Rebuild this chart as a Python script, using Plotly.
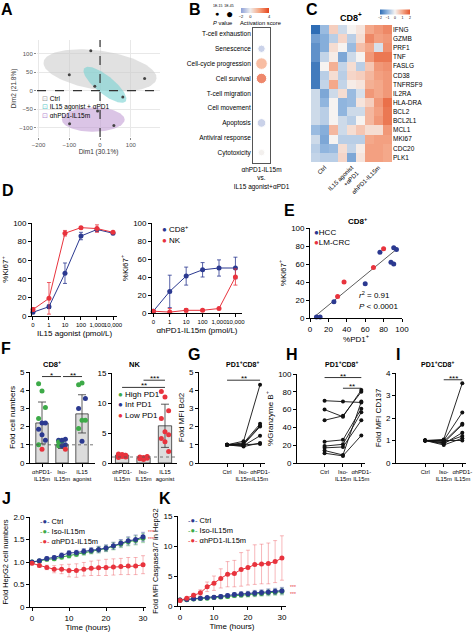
import numpy as np
import plotly.graph_objects as go

W, H = 474, 633
FONT = "Liberation Sans, Arial, sans-serif"
BLUE = "#2b3990"
RED = "#e8333d"
GREEN = "#3daa48"

# ---------------- data ----------------
# A: PCA
a_ctrl_x = [-30, -100, 145]
a_ctrl_y = [108, 43, 33]
a_combo_x = [-17, 74]
a_combo_y = [12, -17]
a_ah_x = [-8, -99, 45]
a_ah_y = [-55, -89, -94]
ell_cx = [0, 16, -22]
ell_cy = [55, 16, -78]
ell_a = [185, 81, 102]
ell_b = [53, 26, 33]
ell_ang = [-6.8, -32.4, 0]
ell_fill = ["rgba(200,200,200,0.55)", "rgba(120,210,210,0.6)", "rgba(190,150,210,0.55)"]

# B: pathway bubbles
b_cats = ["T-cell exhaustion", "Senescence", "Cell-cycle progression", "Cell survival",
          "T-cell migration", "Cell movement", "Apoptosis", "Antiviral response", "Cytotoxicity"]
b_act = [None, -1.2, 2.0, 3.6, None, None, -1.2, None, 0.1]
b_logp = [0, 8, 22, 18, 0, 0, 12, 0, 5]

# C: heatmap
c_genes = ["IFNG", "GZMB", "PRF1", "TNF", "FASLG", "CD38", "TNFRSF9", "IL2RA", "HLA-DRA",
           "BCL2", "BCL2L1", "MCL1", "MKI67", "CDC20", "PLK1"]
c_groups = ["Ctrl", "IL15 agonist<br>+αPD1", "αhPD1-IL15m"]
c_z = [
    [-2.0, -0.9, 0.5, -0.4, 0.0, 0.2, 1.0, 1.2, 1.4],
    [-1.3, -1.1, -0.6, 0.4, -0.6, 0.3, 1.4, 1.1, 1.2],
    [-1.5, -1.1, 0.3, 0.0, -0.9, 0.7, 1.0, -0.3, 1.3],
    [-1.5, -0.5, 0.1, -1.2, -0.4, 0.0, 1.2, 1.6, 1.6],
    [-1.8, 0.0, 0.9, -0.5, 0.3, -0.6, 0.6, 1.2, 1.3],
    [-1.8, -0.6, 0.3, -0.6, 0.4, 0.5, 0.8, 1.1, 1.2],
    [-1.8, -0.5, 1.0, -0.5, 0.1, 0.2, 0.9, 1.0, 1.2],
    [-0.4, -1.2, -0.4, 0.3, -0.9, -0.3, 1.2, 1.0, 1.2],
    [-0.4, -1.0, 0.0, -1.0, -0.9, 0.2, 0.5, 1.2, 1.7],
    [-0.4, -0.6, 0.0, -1.0, -0.4, -0.4, 0.8, 1.1, 1.6],
    [-0.4, -0.6, 0.0, -0.4, -0.6, 0.0, 0.8, 1.2, 1.6],
    [-0.9, -1.1, 0.8, -0.4, 0.3, 0.6, 0.3, 0.3, 1.2],
    [-0.4, -1.2, 0.0, -0.6, -0.6, -0.6, 1.0, 1.1, 1.1],
    [-0.6, -1.0, -0.9, 0.3, -0.5, 0.1, 1.1, 1.1, 1.0],
    [-0.5, -0.6, -0.6, 0.4, -1.2, 0.2, 1.1, 1.1, 1.0],
]

# D: dose response
d_doses = ["0", "1", "10", "100", "1,000", "10,000"]
d_il15_cd8 = [4, 10, 46, 86, 93, 89]
d_il15_cd8_err = [1, 2, 11, 4, 2, 1]
d_il15_nk = [7, 19, 89, 95, 94, 90]
d_il15_nk_err = [2, 17, 3, 1, 4, 1]
d_ah_cd8 = [2, 24, 41, 48, 50, 50]
d_ah_cd8_err = [1, 18, 10, 8, 9, 12]
d_ah_nk = [2, 1, 3, 3, 5, 40]
d_ah_nk_err = [1, 4, 2, 1, 1, 9]

# E: correlation
e_hcc_x = [7, 11, 26, 60, 76, 88, 91, 91, 94]
e_hcc_y = [1, 1, 18, 38, 73, 62, 78, 60, 76]
e_crc_x = [30, 37, 69, 80]
e_crc_y = [24, 40, 56, 77]

# F: fold cell numbers
f_groups = ["αhPD1-<br>IL15m", "Iso-<br>IL15m", "IL15<br>agonist"]
f_cd8_mean = [2.2, 1.0, 2.7]
f_cd8_sd = [1.15, 0.2, 1.05]
f_cd8_vals = [
    [4.35, 3.95, 3.05, 2.45, 2.2, 2.2, 1.85, 1.55, 1.25, 1.0, 0.75],
    [1.25, 1.2, 1.3, 1.15, 1.25, 1.0, 0.95, 0.95, 0.75],
    [4.3, 4.4, 3.55, 3.0, 2.35, 2.35, 1.9, 1.2],
]
f_cd8_pd1 = [
    ["H", "H", "H", "H", "I", "I", "I", "I", "I", "H", "L"],
    ["I", "H", "I", "H", "I", "I", "H", "I", "L"],
    ["H", "H", "I", "I", "H", "H", "H", "I"],
]
f_nk_mean = [1.3, 0.85, 6.2]
f_nk_sd = [0.3, 0.25, 3.6]
f_nk_vals = [
    [1.5, 1.4, 1.3, 1.2, 1.1, 1.0, 1.35, 1.25, 1.1, 0.9],
    [1.0, 0.9, 0.8, 0.7, 0.6, 1.1, 0.9, 0.8, 1.0],
    [11.9, 11.0, 8.7, 7.4, 5.2, 4.7, 4.1, 3.55, 1.9],
]
pd1_color = {"H": GREEN, "I": BLUE, "L": RED}

# G/H/I paired
pair_cats = ["Ctrl", "Iso-<br>IL15m", "αhPD1-<br>IL15m"]
g_ctrl = [1.0, 1.0, 1.0, 1.0, 1.0, 1.0, 1.0]
g_iso = [1.2, 1.1, 1.05, 1.0, 0.95, 0.9, 1.0]
g_ah = [4.3, 2.15, 2.05, 2.0, 1.5, 1.1, 1.05]
h_ctrl = [70, 60, 48, 24, 19, 17, 14, 11]
h_iso = [69, 52, 53, 26, 21, 18, 9, 8]
h_ah = [68, 82, 80, 61, 57, 48, 69, 31]
i_ctrl = [1.0, 1.0, 1.0, 1.0, 1.0, 1.0, 1.0, 1.0]
i_iso = [1.05, 1.0, 0.95, 0.9, 0.85, 0.9, 0.8, 1.0]
i_ah = [3.55, 2.25, 1.75, 1.7, 1.35, 1.2, 1.1, 1.0]

# J/K time courses
t_hours = [0, 2, 4, 6, 8, 10, 12, 14, 16, 18, 20, 22, 24, 26, 28, 30]
j_ctrl = [1.0, 1.03, 1.08, 1.1, 1.15, 1.2, 1.21, 1.24, 1.26, 1.28, 1.31, 1.36, 1.42, 1.47, 1.5, 1.56]
j_ctrl_err = [0.02, 0.03, 0.04, 0.04, 0.05, 0.05, 0.05, 0.06, 0.06, 0.07, 0.07, 0.08, 0.08, 0.09, 0.1, 0.1]
j_iso = [1.0, 1.02, 1.06, 1.07, 1.11, 1.14, 1.17, 1.21, 1.24, 1.27, 1.3, 1.35, 1.4, 1.45, 1.48, 1.53]
j_ah = [0.97, 0.92, 0.88, 0.84, 0.84, 0.81, 0.81, 0.84, 0.86, 0.87, 0.88, 0.89, 0.9, 0.91, 0.91, 0.94]
j_ah_err = [0.03, 0.04, 0.05, 0.08, 0.1, 0.14, 0.15, 0.15, 0.16, 0.17, 0.18, 0.18, 0.18, 0.19, 0.19, 0.2]
k_ctrl = [1.0, 1.1, 1.2, 1.3, 1.4, 1.45, 1.6, 1.75, 1.9, 2.0, 2.05, 2.15, 2.25, 2.35, 2.45, 2.55]
k_ctrl_err = [0.1, 0.1, 0.15, 0.2, 0.2, 0.25, 0.3, 0.3, 0.35, 0.4, 0.4, 0.45, 0.45, 0.5, 0.5, 0.55]
k_iso = [1.0, 1.05, 1.15, 1.25, 1.3, 1.4, 1.5, 1.6, 1.75, 1.85, 1.9, 2.0, 2.1, 2.2, 2.3, 2.4]
k_ah = [0.9, 1.3, 1.8, 2.2, 3.2, 3.8, 4.6, 5.3, 5.4, 6.1, 6.4, 6.9, 7.0, 7.1, 7.4, 8.0]
k_ah_err = [0.1, 0.2, 0.3, 0.5, 0.8, 1.2, 1.6, 2.1, 2.2, 2.8, 2.9, 3.3, 3.3, 3.4, 3.5, 3.7]

# ---------------- helpers ----------------
layout = dict(width=W, height=H, margin=dict(l=0, r=0, t=0, b=0, autoexpand=False),
              paper_bgcolor="white", plot_bgcolor="white",
              font=dict(family=FONT, size=7, color="black"), showlegend=False)
traces, shapes, anns = [], [], []

base_axis = dict(showline=True, linecolor="black", linewidth=0.8, ticks="outside", ticklen=3,
                 tickwidth=0.8, tickcolor="black", showgrid=False, zeroline=False, automargin=False,
                 tickangle=0, tickfont=dict(size=8), fixedrange=True)


def add_axes(n, box, xkw, ykw):
    x0, x1, y0, y1 = box
    sx = "" if n == 1 else str(n)
    layout["xaxis" + sx] = {**base_axis, "domain": [x0 / W, x1 / W], "anchor": "y" + sx, **xkw}
    layout["yaxis" + sx] = {**base_axis, "domain": [1 - y1 / H, 1 - y0 / H], "anchor": "x" + sx, **ykw}
    return "x" + sx, "y" + sx


def ann(x, y, text, size=8, xa="center", ya="middle", color="black", align="left", **kw):
    anns.append(dict(x=x / W, y=1 - y / H, xref="paper", yref="paper", text=text, showarrow=False,
                     xanchor=xa, yanchor=ya, align=align, font=dict(size=size, color=color, family=FONT), **kw))


def ytitle(text, size=8, standoff=3):
    return dict(text=text, font=dict(size=size), standoff=standoff)


def sig(xr, yr, xa, xb, y, text, size=8):
    shapes.append(dict(type="line", xref=xr, yref=yr, x0=xa, x1=xb, y0=y, y1=y,
                       line=dict(color="black", width=0.8)))
    anns.append(dict(x=(xa + xb) / 2, y=y, xref=xr, yref=yr, text=text, showarrow=False,
                     yanchor="bottom", yshift=-5, font=dict(size=size, color="black")))


def hline(xr, yr, y, dash="dot"):
    shapes.append(dict(type="line", xref=xr + " domain", yref=yr, x0=0, x1=1, y0=y, y1=y,
                       line=dict(color="#555", width=0.8, dash=dash)))


# ---------------- A ----------------
xa, ya = add_axes(1, (37, 160, 40, 137),
                  dict(range=[-205, 195], tickvals=[-200, -100, 0, 100], showline=False, showgrid=True,
                       gridcolor="#e8e8e8", ticklen=2, tickcolor="#888", tickfont=dict(size=6, color="#555"),
                       title=dict(text="Dim1 (30.1%)", font=dict(size=6.5, color="#333"), standoff=2)),
                  dict(range=[-125, 137], tickvals=[-100, -50, 0, 50, 100], showline=False, showgrid=True,
                       gridcolor="#e8e8e8", ticklen=2, tickcolor="#888", tickfont=dict(size=6, color="#555"),
                       title=dict(text="Dim2 (21.8%)", font=dict(size=6.5, color="#333"), standoff=2)))
tt = np.linspace(0, 2 * np.pi, 120)
for cx, cy, a, b, ang, fc in zip(ell_cx, ell_cy, ell_a, ell_b, ell_ang, ell_fill):
    th = np.deg2rad(ang)
    ex = cx + a * np.cos(tt) * np.cos(th) - b * np.sin(tt) * np.sin(th)
    ey = cy + a * np.cos(tt) * np.sin(th) + b * np.sin(tt) * np.cos(th)
    traces.append(go.Scatter(x=ex, y=ey, mode="lines", fill="toself", fillcolor=fc,
                             line=dict(width=0), xaxis=xa, yaxis=ya, hoverinfo="skip"))
for px_, py_ in [(a_ctrl_x, a_ctrl_y), (a_combo_x, a_combo_y), (a_ah_x, a_ah_y)]:
    traces.append(go.Scatter(x=px_, y=py_, mode="markers", marker=dict(size=3, color="#444"),
                             xaxis=xa, yaxis=ya, cliponaxis=False))
shapes.append(dict(type="line", xref="x", yref="y domain", x0=0, x1=0, y0=0, y1=1,
                   line=dict(color="#333", width=1.2, dash="dash")))
shapes.append(dict(type="line", xref="x domain", yref="y", x0=0, x1=1, y0=0, y1=0,
                   line=dict(color="#333", width=1.2, dash="dash")))
ann(40, 93, "<span style='color:#999'>⊡</span> Ctrl<br><span style='color:#5cc8c8'>⊡</span> IL15 agonist + αPD1"
            "<br><span style='color:#b48ad0'>⊡</span> αhPD1-IL15m", size=6.5, xa="left", ya="top")
ann(7, 9, "<b>A</b>", size=16)

# ---------------- B ----------------
xb, yb = add_axes(2, (253, 270, 28, 163),
                  dict(range=[-0.5, 0.5], tickvals=[0], ticks="", mirror=True, linecolor="#555",
                       ticktext=["αhPD1-IL15m<br>vs.<br>IL15 agonist+αPD1"], tickfont=dict(size=6.5)),
                  dict(range=[8.7, -0.4], tickvals=list(range(len(b_cats))), ticktext=b_cats, ticks="",
                       mirror=True, linecolor="#555", tickfont=dict(size=6.5)))
bi = [i for i, v in enumerate(b_act) if v is not None]
traces.append(go.Scatter(
    x=[0] * len(bi), y=bi, mode="markers", xaxis=xb, yaxis=yb,
    marker=dict(size=[5 + 0.3 * b_logp[i] for i in bi], color=[b_act[i] for i in bi],
                colorscale=[[0, "#8c9fd8"], [0.33, "#eeeeee"], [0.66, "#f6a47f"], [1, "#e5431b"]],
                cmin=-2, cmax=4, showscale=True,
                colorbar=dict(orientation="h", x=255 / W, y=1 - 13 / H, xanchor="center", yanchor="middle",
                              lenmode="pixels", len=28, thickness=5, outlinewidth=0, xpad=0, ypad=0,
                              tickvals=[-2, 0, 4], tickfont=dict(size=4), ticks=""))))
ann(217, 14, "●", size=7)
ann(229, 14, "●", size=12)
ann(223, 6, "1E-15  1E-45", size=3.5)
ann(222, 23, "<i>P</i> value", size=5.8)
ann(260, 23, "Activation score", size=5.8)
ann(195, 9, "<b>B</b>", size=16)

# ---------------- C ----------------
xc, yc = add_axes(3, (311, 392, 25, 162),
                  dict(range=[-0.5, 8.5], tickvals=[1, 4, 7], ticktext=c_groups, tickangle=-45,
                       showline=False, ticks="", tickfont=dict(size=6)),
                  dict(range=[14.5, -0.5], tickvals=list(range(len(c_genes))), ticktext=c_genes, side="right",
                       showline=False, ticks="", tickfont=dict(size=6.5)))
traces.append(go.Heatmap(
    z=c_z, x=list(range(9)), y=list(range(len(c_genes))), xaxis=xc, yaxis=yc, zmin=-2, zmax=2,
    colorscale=[[0, "#2f6db5"], [0.25, "#90b5de"], [0.5, "#f6f3f1"], [0.75, "#f4a88a"], [1, "#e5582f"]],
    colorbar=dict(orientation="h", x=395 / W, y=1 - 14 / H, xanchor="center", yanchor="middle",
                  lenmode="pixels", len=30, thickness=5, outlinewidth=0, xpad=0, ypad=0,
                  tickvals=[-2, -1, 0, 1, 2], tickfont=dict(size=3.5), ticks="")))
ann(351, 17, "<b>CD8<sup>+</sup></b>", size=9)
ann(312, 9, "<b>C</b>", size=16)

# ---------------- D ----------------
dx = list(range(len(d_doses)))
for n, box, rng, xt, c8, c8e, nk, nke in [
        (4, (32, 117, 223, 316), [-0.06, 5.25], "IL15 agonist (pmol/L)", d_il15_cd8, d_il15_cd8_err, d_il15_nk, d_il15_nk_err),
        (5, (152, 242, 223, 313), [-0.08, 5.4], "αhPD1-IL15m (pmol/L)", d_ah_cd8, d_ah_cd8_err, d_ah_nk, d_ah_nk_err)]:
    xd, yd = add_axes(n, box,
                      dict(range=rng, tickvals=dx, ticktext=d_doses, tickfont=dict(size=6),
                           title=dict(text=xt, font=dict(size=8), standoff=3)),
                      dict(range=[0, 100], tickvals=[0, 20, 40, 60, 80, 100], title=ytitle("%Ki67<sup>+</sup>")))
    for vals, errs, col in [(c8, c8e, BLUE), (nk, nke, RED)]:
        traces.append(go.Scatter(x=dx, y=vals, mode="lines+markers", xaxis=xd, yaxis=yd, cliponaxis=False,
                                 line=dict(color=col, width=1), marker=dict(size=5, color=col),
                                 error_y=dict(type="data", array=errs, color=col, thickness=0.8, width=2)))
ann(160, 222, f"<span style='color:{BLUE}'>●</span> CD8<sup>+</sup><br><span style='color:{RED}'>●</span> NK",
    size=8, xa="left", ya="top")
ann(8, 190, "<b>D</b>", size=16)

# ---------------- E ----------------
xe, ye = add_axes(6, (310, 402, 228, 318),
                  dict(range=[0, 100], tickvals=[0, 20, 40, 60, 80, 100],
                       title=dict(text="%PD1<sup>+</sup>", font=dict(size=8), standoff=3)),
                  dict(range=[0, 100], tickvals=[0, 20, 40, 60, 80, 100], title=ytitle("%Ki67<sup>+</sup>")))
all_x = np.array(e_hcc_x + e_crc_x, float)
all_y = np.array(e_hcc_y + e_crc_y, float)
slope, icpt = np.polyfit(all_x, all_y, 1)
fx = np.array([min(all_x) - 2, max(all_x)])
traces.append(go.Scatter(x=fx, y=slope * fx + icpt, mode="lines", line=dict(color="#333", width=0.8),
                         xaxis=xe, yaxis=ye))
traces.append(go.Scatter(x=e_hcc_x, y=e_hcc_y, mode="markers", marker=dict(size=5, color=BLUE),
                         xaxis=xe, yaxis=ye, cliponaxis=False))
traces.append(go.Scatter(x=e_crc_x, y=e_crc_y, mode="markers", marker=dict(size=5, color=RED),
                         xaxis=xe, yaxis=ye, cliponaxis=False))
ann(312, 226, f"<span style='color:{BLUE}'>●</span>HCC<br><span style='color:{RED}'>●</span>LM-CRC",
    size=8, xa="left", ya="top")
ann(400, 313, "<i>r</i><sup>2</sup> = 0.91<br><i>P</i> < 0.0001", size=8, xa="right", ya="bottom", align="left")
ann(358, 221, "<b>CD8<sup>+</sup></b>", size=8)
ann(289, 210, "<b>E</b>", size=16)

# ---------------- F ----------------
def jitter(k):
    return [((i % 3) - 1) * 0.17 for i in range(k)]


for n, box, rng, ymax, ytv, means, sds, vals, cols, ttl, tx in [
        (7, (30, 95, 372, 463), [-0.6, 2.65], 5, [0, 1, 2, 3, 4, 5], f_cd8_mean, f_cd8_sd, f_cd8_vals, f_cd8_pd1,
         "<b>CD8<sup>+</sup></b>", 52),
        (8, (112, 177, 373, 463), [-0.47, 2.56], 15, [0, 5, 10, 15], f_nk_mean, f_nk_sd, f_nk_vals, None,
         "<b>NK</b>", 134)]:
    xf, yf = add_axes(n, box,
                      dict(range=rng, tickvals=[0, 1, 2], ticktext=f_groups, tickfont=dict(size=5.8)),
                      dict(range=[0, ymax], tickvals=ytv,
                           title=ytitle("Fold cell numbers") if n == 7 else None))
    traces.append(go.Bar(x=[0, 1, 2], y=means, width=0.62, xaxis=xf, yaxis=yf,
                         marker=dict(color="#dcdcdc", line=dict(color="#333", width=0.8)),
                         error_y=dict(type="data", array=sds, color="#333", thickness=0.8, width=4)))
    hline(xf, yf, 1)
    for gi, gv in enumerate(vals):
        jx = [gi + j for j in jitter(len(gv))]
        cc = [pd1_color[c] for c in cols[gi]] if cols else [RED] * len(gv)
        traces.append(go.Scatter(x=jx, y=gv, mode="markers", marker=dict(size=5, color=cc),
                                 xaxis=xf, yaxis=yf, cliponaxis=False))
    ann(tx, 364, ttl, size=7.5)
sig("x7", "y7", 0, 0.95, 4.75, "*")
sig("x7", "y7", 1.05, 2, 4.75, "**")
sig("x8", "y8", 0, 2, 12.6, "**")
sig("x8", "y8", 1, 2, 13.8, "***")
ann(116, 388, f"<span style='color:{GREEN}'>●</span> High PD1<br><span style='color:{BLUE}'>●</span> Int PD1"
              f"<br><span style='color:{RED}'>●</span> Low PD1", size=8, xa="left", ya="top")
ann(6, 348, "<b>F</b>", size=16)

# ---------------- G / H / I ----------------
for n, box, rng, yr, ytv, ytl, series, ttl, tx, lab, lx in [
        (9, (199, 265, 372, 463), [-1.7, 2.3], [0, 5], [0, 1, 2, 3, 4, 5], "Fold MFI Bcl2",
         (g_ctrl, g_iso, g_ah), "<b>PD1<sup>+</sup>CD8<sup>+</sup></b>", 243, "G", 194),
        (10, (297, 365, 374, 463), [-1.5, 2.2], [0, 100], [0, 20, 40, 60, 80, 100], "%Granzyme B<sup>+</sup>",
         (h_ctrl, h_iso, h_ah), "<b>PD1<sup>+</sup>CD8<sup>+</sup></b>", 342, "H", 292),
        (11, (396, 466, 373, 463), [-1.57, 2.2], [0, 4], [0, 1, 2, 3, 4], "Fold MFI CD137",
         (i_ctrl, i_iso, i_ah), "<b>PD1<sup>+</sup>CD8<sup>+</sup></b>", 438, "I", 398)]:
    xg, yg = add_axes(n, box,
                      dict(range=rng, tickvals=[0, 1, 2], ticktext=pair_cats, tickfont=dict(size=5.8)),
                      dict(range=yr, tickvals=ytv, title=ytitle(ytl)))
    for k in range(len(series[0])):
        traces.append(go.Scatter(x=[0, 1, 2], y=[series[0][k], series[1][k], series[2][k]],
                                 mode="lines+markers", line=dict(color="#111", width=0.9),
                                 marker=dict(size=4, color="#111"), xaxis=xg, yaxis=yg, cliponaxis=False))
    ann(tx, 364, ttl, size=7)
    ann(lx, 354, f"<b>{lab}</b>", size=16)
sig("x9", "y9", 0, 2, 4.55, "**")
sig("x10", "y10", 0, 2, 96, "**")
sig("x10", "y10", 1, 2, 84, "**")
sig("x11", "y11", 1, 2, 3.7, "***")

# ---------------- J / K ----------------
for n, box, rng, yr, ytv, ytt, ytl, ctrl, ctrl_e, iso, ah, ah_e, lab, lx, starx, stary in [
        (12, (30, 146, 517, 607), [-0.54, 30.8], [0, 2], [0, 0.5, 1.0, 1.5, 2.0], ["0", "0.5", "1.0", "1.5", "2.0"],
         "Fold HepG2 cell numbers", j_ctrl, j_ctrl_err, j_iso, j_ah, j_ah_err, "J", 6, 146, 535),
        (13, (178, 286, 516, 606), [-0.59, 31.2], [0, 15], [0, 5, 10, 15], ["0", "5", "10", "15"],
         "Fold MFI Caspase3/7 in HepG2", k_ctrl, k_ctrl_err, k_iso, k_ah, k_ah_err, "K", 165, 288, 590)]:
    xj, yj = add_axes(n, box,
                      dict(range=rng, tickvals=[0, 10, 20, 30],
                           title=dict(text="Time (hours)", font=dict(size=8), standoff=2)),
                      dict(range=yr, tickvals=ytv, ticktext=ytt, title=ytitle(ytl, size=7.5)))
    traces.append(go.Scatter(x=t_hours, y=iso, mode="lines+markers", line=dict(color=GREEN, width=1),
                             marker=dict(size=5, color=GREEN), xaxis=xj, yaxis=yj, cliponaxis=False,
                             error_y=dict(type="data", array=ctrl_e, color="rgba(61,170,72,0.6)", thickness=0.7, width=2)))
    traces.append(go.Scatter(x=t_hours, y=ctrl, mode="lines+markers", line=dict(color=BLUE, width=1),
                             marker=dict(size=5, color=BLUE), xaxis=xj, yaxis=yj, cliponaxis=False,
                             error_y=dict(type="data", array=ctrl_e, color="rgba(43,57,144,0.6)", thickness=0.7, width=2)))
    traces.append(go.Scatter(x=t_hours, y=ah, mode="lines+markers", line=dict(color=RED, width=1),
                             marker=dict(size=5, color=RED), xaxis=xj, yaxis=yj, cliponaxis=False,
                             error_y=dict(type="data", array=ah_e, color="rgba(232,51,61,0.5)", thickness=0.7, width=2)))
    ann(box[0] + 8, box[2] - 2,
        f"<span style='color:{BLUE}'>-●-</span> Ctrl<br><span style='color:{GREEN}'>-●-</span> Iso-IL15m"
        f"<br><span style='color:{RED}'>-●-</span> αhPD1-IL15m", size=7.5, xa="left", ya="top")
    ann(starx, stary, "***<br>***", size=5, color=RED, xa="left")
    ann(lx, 498, f"<b>{lab}</b>", size=16)

layout["shapes"] = shapes
layout["annotations"] = anns
fig = go.Figure(data=traces, layout=layout)
fig.write_html("out.html", config={"displayModeBar": False},
               post_script="document.body.style.margin='0';document.documentElement.style.overflow='hidden';")
